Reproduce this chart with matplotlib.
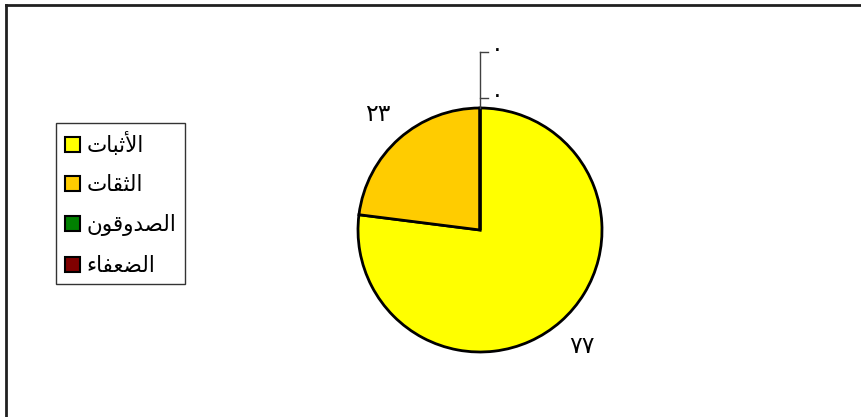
import numpy as np
import matplotlib.pyplot as plt
from matplotlib.patches import Rectangle
from matplotlib.lines import Line2D

# data (legend names are stored pre-shaped, in visual order, so DejaVu draws them joined)
names = ["\ufe95\ufe8e\ufe92\ufe9b\ufef7\ufe8d",          # الأثبات
         "\ufe95\ufe8e\ufed8\ufe9c\ufedf\ufe8d",          # الثقات
         "\ufee5\ufeee\ufed7\ufeed\ufeaa\ufebc\ufedf\ufe8d",  # الصدوقون
         "\ufe80\ufe8e\ufed4\ufecc\ufec0\ufedf\ufe8d"]    # الضعفاء
values = [77, 23, 0, 0]
value_labels = ["\u0667\u0667", "\u0662\u0663", "\u0660", "\u0660"]
colors = ["#ffff00", "#ffcc00", "#008000", "#800000"]

W, H = 861, 417
fig = plt.figure(figsize=(W/100, H/100), dpi=100)
ax = fig.add_axes([0, 0, 1, 1])

cx, cy, r = 480, H - 230, 122
wedges, _ = ax.pie(values, colors=colors, startangle=90, counterclock=False,
                   center=(cx, cy), radius=r, frame=True,
                   wedgeprops=dict(edgecolor="black", linewidth=2))
ax.set_xlim(0, W)
ax.set_ylim(0, H)
ax.set_aspect("equal")
ax.axis("off")

# labels for the non-zero slices
ang0 = 90
for v, lab in zip(values, value_labels):
    if v == 0:
        continue
    mid = np.deg2rad(ang0 - v / sum(values) * 360 / 2)
    ax.text(cx + 1.27 * r * np.cos(mid), cy + 1.27 * r * np.sin(mid), lab,
            ha="center", va="center", fontsize=17)
    ang0 -= v / sum(values) * 360

# zero slices sit at the top, labelled with leader lines
top = cy + r
lead = [10, 56]
ax.plot([cx, cx], [top, top + lead[-1]], color="#404040", lw=1)
for d, lab in zip(lead, [l for v, l in zip(values, value_labels) if v == 0]):
    ax.plot([cx, cx + 8], [top + d, top + d], color="#404040", lw=1)
    ax.text(cx + 17, top + d + 3, lab, ha="center", va="center", fontsize=17)

# legend
handles = [Rectangle((0, 0), 1, 1, facecolor=c, edgecolor="black", lw=1.5) for c in colors]
leg = fig.legend(handles, names, loc="upper left", bbox_to_anchor=(56/W, 1 - 123/H),
                 fontsize=15.5, frameon=True, fancybox=False, edgecolor="black",
                 handlelength=0.7, handleheight=0.7, handletextpad=0.3,
                 labelspacing=0.9, borderpad=0.4, borderaxespad=0)
leg.get_frame().set_linewidth(1)

# outer frame (top and left edges only)
fig.add_artist(Line2D([6/W, 1], [1 - 5/H, 1 - 5/H], color="#202020", lw=2))
fig.add_artist(Line2D([6/W, 6/W], [0, 1 - 5/H], color="#202020", lw=2))

fig.savefig("out.png", dpi=100)
